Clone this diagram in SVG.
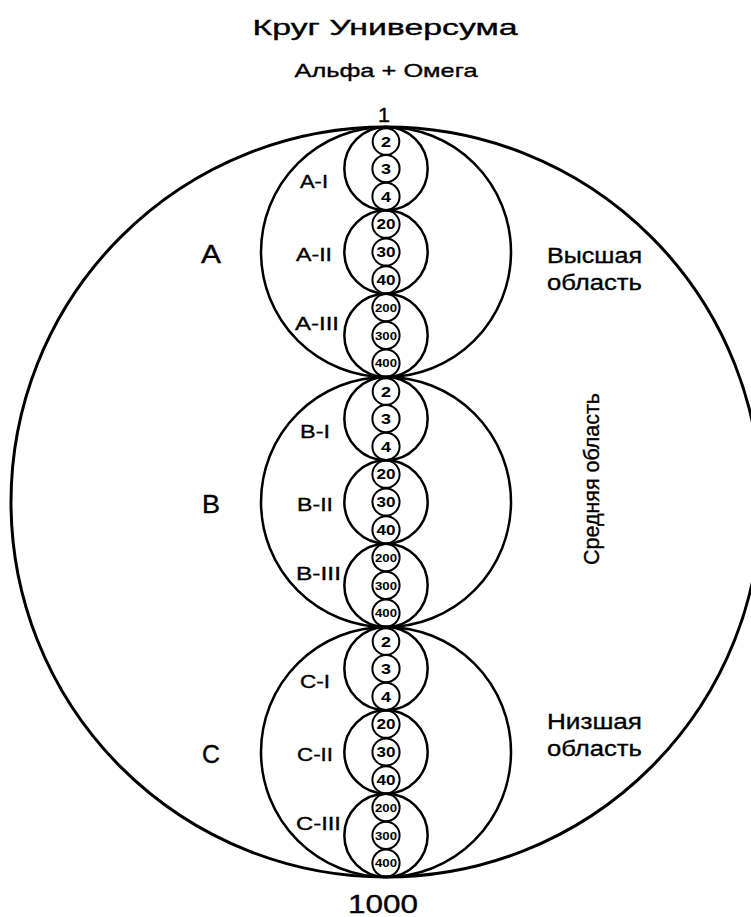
<svg xmlns="http://www.w3.org/2000/svg" width="751" height="917" viewBox="0 0 751 917">
<style>
.c{fill:none;stroke:#000}
.big{stroke-width:3}
.mid{stroke-width:2.5}
.sm{stroke-width:2.5}
.tn{fill:none;stroke:#000;stroke-width:2}
text{font-family:"Liberation Sans",Arial,sans-serif;fill:#000;stroke:#000;stroke-width:0.35px}
.n{font-weight:bold;text-anchor:middle;stroke-width:0}
.n1{font-size:15px}
.n2{font-size:14px}
.n3{font-size:11.5px}
.lab{font-size:19px}
.bl{font-size:25px}
.reg{font-size:22px}
.ctr{text-anchor:middle}
.sub{font-size:19px}
.one{font-size:21px}
.bottom{font-size:25px}
</style>
<rect width="751" height="917" fill="#fff"/>
<g id="titles">
<text class="reg ctr" x="385" y="35" textLength="265" lengthAdjust="spacingAndGlyphs">Круг Универсума</text>
<text class="sub ctr" x="386" y="77" textLength="183" lengthAdjust="spacingAndGlyphs">Альфа + Омега</text>
<text class="one ctr" x="384" y="122" textLength="12" lengthAdjust="spacingAndGlyphs">1</text>
<text class="bottom ctr" x="383" y="913" textLength="70" lengthAdjust="spacingAndGlyphs">1000</text>
</g>
<g id="universe"><circle class="c big" cx="386" cy="502" r="375"/></g>
<g id="A"><circle class="c mid" cx="386" cy="252" r="125"/><text class="bl" x="201" y="263" textLength="20" lengthAdjust="spacingAndGlyphs">A</text></g>
<g id="B"><circle class="c mid" cx="386" cy="502" r="125"/><text class="bl" x="202" y="513" textLength="18" lengthAdjust="spacingAndGlyphs">B</text></g>
<g id="C"><circle class="c mid" cx="386" cy="752" r="125"/><text class="bl" x="202" y="763" textLength="18" lengthAdjust="spacingAndGlyphs">C</text></g>
<g id="regions">
<text class="reg" x="547" y="263" textLength="95" lengthAdjust="spacingAndGlyphs">Высшая</text>
<text class="reg" x="547" y="290" textLength="95" lengthAdjust="spacingAndGlyphs">область</text>
<text class="reg" x="547" y="729" textLength="95" lengthAdjust="spacingAndGlyphs">Низшая</text>
<text class="reg" x="547" y="756" textLength="95" lengthAdjust="spacingAndGlyphs">область</text>
<text class="reg ctr" transform="translate(599 479) rotate(-90)" x="0" y="0" textLength="172" lengthAdjust="spacingAndGlyphs">Средняя область</text>
</g>
<g id="A-I"><circle class="c sm" cx="386" cy="168.67" r="41.67"/><text class="lab" x="300" y="188" textLength="28" lengthAdjust="spacingAndGlyphs">A-I</text></g>
<g id="A-II"><circle class="c sm" cx="386" cy="252" r="41.67"/><text class="lab" x="296" y="261" textLength="36" lengthAdjust="spacingAndGlyphs">A-II</text></g>
<g id="A-III"><circle class="c sm" cx="386" cy="335.33" r="41.67"/><text class="lab" x="295" y="330" textLength="44" lengthAdjust="spacingAndGlyphs">A-III</text></g>
<g id="B-I"><circle class="c sm" cx="386" cy="418.67" r="41.67"/><text class="lab" x="300" y="438" textLength="30" lengthAdjust="spacingAndGlyphs">B-I</text></g>
<g id="B-II"><circle class="c sm" cx="386" cy="502" r="41.67"/><text class="lab" x="297" y="511" textLength="36" lengthAdjust="spacingAndGlyphs">B-II</text></g>
<g id="B-III"><circle class="c sm" cx="386" cy="585.33" r="41.67"/><text class="lab" x="296" y="580" textLength="45" lengthAdjust="spacingAndGlyphs">B-III</text></g>
<g id="C-I"><circle class="c sm" cx="386" cy="668.67" r="41.67"/><text class="lab" x="300" y="688" textLength="30" lengthAdjust="spacingAndGlyphs">C-I</text></g>
<g id="C-II"><circle class="c sm" cx="386" cy="752" r="41.67"/><text class="lab" x="297" y="761" textLength="36" lengthAdjust="spacingAndGlyphs">C-II</text></g>
<g id="C-III"><circle class="c sm" cx="386" cy="835.33" r="41.67"/><text class="lab" x="296" y="830" textLength="45" lengthAdjust="spacingAndGlyphs">C-III</text></g>
<g id="A-2"><circle class="tn" cx="386" cy="141.5" r="13.3"/><text class="n n1" x="386" y="146.8" textLength="10" lengthAdjust="spacingAndGlyphs">2</text></g>
<g id="A-3"><circle class="tn" cx="386" cy="168.67" r="13.6"/><text class="n n1" x="386" y="174" textLength="10" lengthAdjust="spacingAndGlyphs">3</text></g>
<g id="A-4"><circle class="tn" cx="386" cy="196.44" r="13.6"/><text class="n n1" x="386" y="201.8" textLength="10" lengthAdjust="spacingAndGlyphs">4</text></g>
<g id="A-20"><circle class="tn" cx="386" cy="224.22" r="13.6"/><text class="n n2" x="386" y="229.2" textLength="19" lengthAdjust="spacingAndGlyphs">20</text></g>
<g id="A-30"><circle class="tn" cx="386" cy="252" r="13.6"/><text class="n n2" x="386" y="257" textLength="19" lengthAdjust="spacingAndGlyphs">30</text></g>
<g id="A-40"><circle class="tn" cx="386" cy="279.78" r="13.6"/><text class="n n2" x="386" y="284.8" textLength="19" lengthAdjust="spacingAndGlyphs">40</text></g>
<g id="A-200"><circle class="tn" cx="386" cy="307.56" r="13.6"/><text class="n n3" x="386" y="311.8" textLength="22" lengthAdjust="spacingAndGlyphs">200</text></g>
<g id="A-300"><circle class="tn" cx="386" cy="335.33" r="13.6"/><text class="n n3" x="386" y="339.5" textLength="22" lengthAdjust="spacingAndGlyphs">300</text></g>
<g id="A-400"><circle class="tn" cx="386" cy="363.11" r="13.6"/><text class="n n3" x="386" y="367.3" textLength="22" lengthAdjust="spacingAndGlyphs">400</text></g>
<g id="B-2"><circle class="tn" cx="386" cy="391.5" r="13.3"/><text class="n n1" x="386" y="396.8" textLength="10" lengthAdjust="spacingAndGlyphs">2</text></g>
<g id="B-3"><circle class="tn" cx="386" cy="418.67" r="13.6"/><text class="n n1" x="386" y="424" textLength="10" lengthAdjust="spacingAndGlyphs">3</text></g>
<g id="B-4"><circle class="tn" cx="386" cy="446.44" r="13.6"/><text class="n n1" x="386" y="451.8" textLength="10" lengthAdjust="spacingAndGlyphs">4</text></g>
<g id="B-20"><circle class="tn" cx="386" cy="474.22" r="13.6"/><text class="n n2" x="386" y="479.2" textLength="19" lengthAdjust="spacingAndGlyphs">20</text></g>
<g id="B-30"><circle class="tn" cx="386" cy="502" r="13.6"/><text class="n n2" x="386" y="507" textLength="19" lengthAdjust="spacingAndGlyphs">30</text></g>
<g id="B-40"><circle class="tn" cx="386" cy="529.78" r="13.6"/><text class="n n2" x="386" y="534.8" textLength="19" lengthAdjust="spacingAndGlyphs">40</text></g>
<g id="B-200"><circle class="tn" cx="386" cy="557.56" r="13.6"/><text class="n n3" x="386" y="561.8" textLength="22" lengthAdjust="spacingAndGlyphs">200</text></g>
<g id="B-300"><circle class="tn" cx="386" cy="585.33" r="13.6"/><text class="n n3" x="386" y="589.5" textLength="22" lengthAdjust="spacingAndGlyphs">300</text></g>
<g id="B-400"><circle class="tn" cx="386" cy="613.11" r="13.6"/><text class="n n3" x="386" y="617.3" textLength="22" lengthAdjust="spacingAndGlyphs">400</text></g>
<g id="C-2"><circle class="tn" cx="386" cy="641.5" r="13.3"/><text class="n n1" x="386" y="646.8" textLength="10" lengthAdjust="spacingAndGlyphs">2</text></g>
<g id="C-3"><circle class="tn" cx="386" cy="668.67" r="13.6"/><text class="n n1" x="386" y="674" textLength="10" lengthAdjust="spacingAndGlyphs">3</text></g>
<g id="C-4"><circle class="tn" cx="386" cy="696.44" r="13.6"/><text class="n n1" x="386" y="701.8" textLength="10" lengthAdjust="spacingAndGlyphs">4</text></g>
<g id="C-20"><circle class="tn" cx="386" cy="724.22" r="13.6"/><text class="n n2" x="386" y="729.2" textLength="19" lengthAdjust="spacingAndGlyphs">20</text></g>
<g id="C-30"><circle class="tn" cx="386" cy="752" r="13.6"/><text class="n n2" x="386" y="757" textLength="19" lengthAdjust="spacingAndGlyphs">30</text></g>
<g id="C-40"><circle class="tn" cx="386" cy="779.78" r="13.6"/><text class="n n2" x="386" y="784.8" textLength="19" lengthAdjust="spacingAndGlyphs">40</text></g>
<g id="C-200"><circle class="tn" cx="386" cy="807.56" r="13.6"/><text class="n n3" x="386" y="811.8" textLength="22" lengthAdjust="spacingAndGlyphs">200</text></g>
<g id="C-300"><circle class="tn" cx="386" cy="835.33" r="13.6"/><text class="n n3" x="386" y="839.5" textLength="22" lengthAdjust="spacingAndGlyphs">300</text></g>
<g id="C-400"><circle class="tn" cx="386" cy="863.11" r="13.6"/><text class="n n3" x="386" y="867.3" textLength="22" lengthAdjust="spacingAndGlyphs">400</text></g>
<g id="connectors"/>
</svg>
